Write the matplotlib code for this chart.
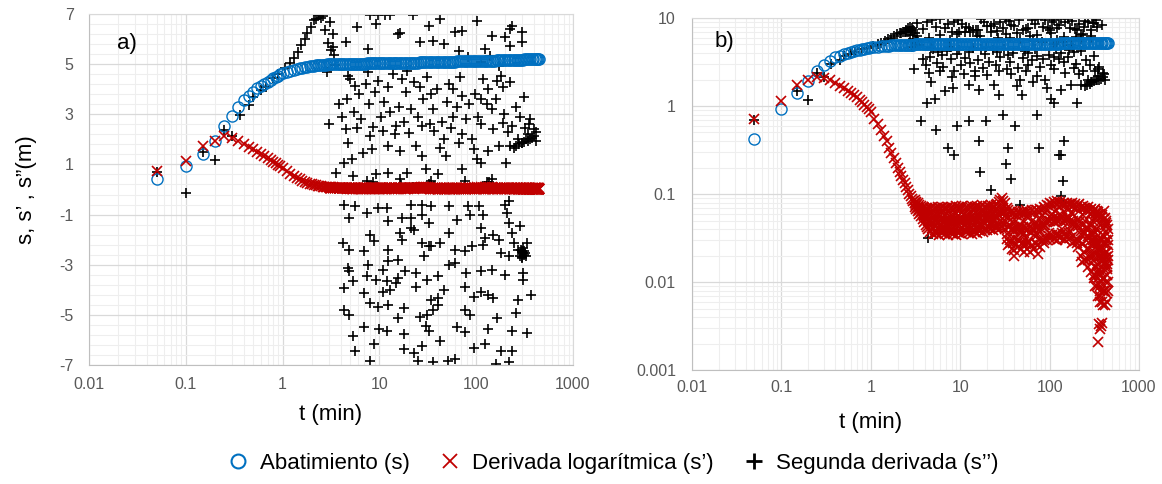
import numpy as np
import matplotlib
matplotlib.use("Agg")
import matplotlib.pyplot as plt
from matplotlib.lines import Line2D
from matplotlib.ticker import FixedLocator, NullFormatter, FuncFormatter, LogLocator

plt.rcParams['font.family'] = ['Liberation Sans', 'DejaVu Sans']
plt.rcParams['axes.unicode_minus'] = False

# ---- data ----
# sample times (min) shared by drawdown s and log-derivative s'
t = [0.05, 0.10, 0.15, 0.20, 0.25, 0.30, 0.35, 0.40, 0.45, 0.50,
     0.55, 0.60, 0.65, 0.70, 0.75, 0.80, 0.85, 0.90, 0.95, 1.00,
     1.1, 1.2, 1.3, 1.4, 1.5, 1.6, 1.7, 1.8, 1.9, 2.0,
     2.1, 2.2, 2.3, 2.4, 2.5, 2.6, 2.7, 2.8, 2.9, 3.0,
     3.1, 3.2, 3.35, 3.5, 3.65, 3.8, 3.95, 4.1, 4.25, 4.4,
     4.6, 4.8, 5.0, 5.2, 5.4, 5.6, 5.8, 6.0, 6.25, 6.5,
     6.75, 7.0, 7.25, 7.5, 7.8, 8.1, 8.4, 8.7, 9.0, 9.4,
     9.8, 10.2, 10.6, 11, 11.5, 12, 12.5, 13, 13.5, 14,
     14.5, 15, 15.6, 16.2, 16.8, 17.5, 18.2, 19, 19.8, 20.6,
     21.4, 22.2, 23, 24, 25, 26, 27, 28, 29, 30,
     31.5, 33, 34.5, 36, 37.5, 39, 40.5, 42, 44, 46,
     48, 50, 52, 54, 56, 58, 61, 64, 67, 70,
     73, 76, 79, 82, 86, 90, 94, 98, 102, 107,
     112, 117, 122, 127, 132, 138, 144, 150, 156, 163,
     170, 177, 184, 192, 200, 208, 216, 225, 234, 243,
     252, 262, 272, 282, 292, 302, 314, 326, 338, 350,
     362, 375, 388, 401, 414, 427, 440, 450]

# drawdown s (m)
s = [0.42, 0.92, 1.42, 1.93, 2.53, 2.93, 3.28, 3.57, 3.73, 3.90,
     4.04, 4.14, 4.22, 4.30, 4.37, 4.43, 4.49, 4.54, 4.59, 4.63,
     4.69, 4.74, 4.78, 4.81, 4.84, 4.86, 4.88, 4.90, 4.91, 4.93,
     4.94, 4.95, 4.96, 4.96, 4.97, 4.97, 4.98, 4.98, 4.99, 4.99,
     5.00, 5.00, 5.00, 5.00, 5.00, 5.01, 5.01, 5.01, 5.01, 5.01,
     5.01, 5.01, 5.01, 5.02, 5.02, 5.02, 5.02, 5.02, 5.02, 5.02,
     5.02, 5.02, 5.02, 5.03, 5.03, 5.03, 5.03, 5.03, 5.03, 5.03,
     5.03, 5.03, 5.03, 5.04, 5.04, 5.04, 5.04, 5.04, 5.04, 5.04,
     5.04, 5.05, 5.05, 5.05, 5.05, 5.05, 5.05, 5.05, 5.06, 5.06,
     5.06, 5.06, 5.06, 5.06, 5.06, 5.07, 5.07, 5.07, 5.07, 5.07,
     5.07, 5.08, 5.08, 5.08, 5.08, 5.08, 5.09, 5.09, 5.09, 5.09,
     5.09, 5.10, 5.10, 5.10, 5.10, 5.10, 5.10, 5.11, 5.11, 5.11,
     5.11, 5.11, 5.11, 5.12, 5.12, 5.12, 5.12, 5.12, 5.12, 5.13,
     5.13, 5.13, 5.13, 5.13, 5.14, 5.14, 5.14, 5.14, 5.14, 5.15,
     5.15, 5.15, 5.15, 5.16, 5.16, 5.16, 5.16, 5.17, 5.17, 5.17,
     5.17, 5.17, 5.18, 5.18, 5.18, 5.18, 5.19, 5.19, 5.19, 5.19,
     5.19, 5.20, 5.20, 5.20, 5.20, 5.21, 5.21, 5.21]

# log derivative s' (m)
ds = [0.72, 1.15, 1.74, 1.95, 2.12, 2.06, 1.95, 1.82, 1.70, 1.60,
      1.50, 1.42, 1.34, 1.26, 1.18, 1.11, 1.04, 0.98, 0.92, 0.85,
      0.72, 0.62, 0.54, 0.46, 0.40, 0.33, 0.29, 0.255, 0.225, 0.20,
      0.18, 0.16, 0.145, 0.132, 0.12, 0.11, 0.10, 0.094, 0.088, 0.083,
      0.079, 0.075, 0.071, 0.066, 0.063, 0.060, 0.056, 0.053, 0.058, 0.050,
      0.050, 0.062, 0.041, 0.055, 0.036, 0.048, 0.060, 0.043, 0.052, 0.038,
      0.058, 0.046, 0.064, 0.040, 0.053, 0.037, 0.049, 0.061, 0.044, 0.056,
      0.039, 0.051, 0.063, 0.045, 0.055, 0.038, 0.050, 0.060, 0.042, 0.054,
      0.047, 0.062, 0.040, 0.056, 0.044, 0.064, 0.048, 0.039, 0.058, 0.052,
      0.066, 0.045, 0.060, 0.050, 0.068, 0.042, 0.058, 0.063, 0.048, 0.070,
      0.062, 0.035, 0.055, 0.028, 0.048, 0.040, 0.032, 0.050, 0.030, 0.045,
      0.036, 0.026, 0.048, 0.032, 0.055, 0.028, 0.042, 0.050, 0.034, 0.046,
      0.034, 0.052, 0.038, 0.058, 0.030, 0.045, 0.064, 0.036, 0.055, 0.060,
      0.048, 0.066, 0.034, 0.058, 0.072, 0.040, 0.062, 0.030, 0.055, 0.068,
      0.038, 0.060, 0.045, 0.070, 0.028, 0.052, 0.064, 0.035, 0.058, 0.022,
      0.050, 0.066, 0.018, 0.045, 0.060, 0.028, 0.054, 0.012, 0.040, 0.062,
      0.008, 0.030, 0.055, 0.014, 0.045, 0.022, 0.035, 0.010]

# upper, centre and lower samples of the noisy s' band from t = 3.1 min on
ds_hi = [0.086, 0.082, 0.080, 0.076, 0.073, 0.071, 0.070, 0.068, 0.069, 0.066,
         0.069, 0.072, 0.066, 0.070, 0.067, 0.071, 0.065, 0.069, 0.072, 0.066,
         0.070, 0.067, 0.072, 0.065, 0.069, 0.071, 0.066, 0.070, 0.073, 0.067,
         0.071, 0.068, 0.073, 0.066, 0.070, 0.072, 0.067, 0.071, 0.074, 0.068,
         0.072, 0.069, 0.074, 0.067, 0.071, 0.075, 0.068, 0.072, 0.070, 0.074,
         0.071, 0.075, 0.069, 0.073, 0.076, 0.078, 0.082, 0.086, 0.089, 0.084,
         0.080, 0.070, 0.066, 0.063, 0.064, 0.060, 0.062, 0.058, 0.063, 0.060,
         0.061, 0.064, 0.060, 0.065, 0.062, 0.058, 0.063, 0.066, 0.062, 0.065,
         0.066, 0.063, 0.068, 0.066, 0.072, 0.070, 0.076, 0.074, 0.080, 0.078,
         0.081, 0.078, 0.083, 0.079, 0.082, 0.077, 0.080, 0.076, 0.079, 0.077,
         0.075, 0.079, 0.074, 0.078, 0.072, 0.075, 0.078, 0.071, 0.074, 0.069,
         0.070, 0.066, 0.071, 0.065, 0.068, 0.063, 0.066, 0.060, 0.064, 0.058,
         0.060, 0.055, 0.058, 0.052, 0.054, 0.047, 0.044, 0.040]
ds_mid = [0.079, 0.075, 0.072, 0.068, 0.064, 0.061, 0.058, 0.055, 0.054, 0.052,
          0.050, 0.054, 0.048, 0.052, 0.049, 0.053, 0.047, 0.051, 0.052, 0.050,
          0.050, 0.051, 0.049, 0.050, 0.049, 0.053, 0.048, 0.052, 0.050, 0.051,
          0.051, 0.052, 0.050, 0.051, 0.051, 0.054, 0.049, 0.053, 0.051, 0.052,
          0.052, 0.053, 0.051, 0.052, 0.052, 0.056, 0.050, 0.054, 0.052, 0.055,
          0.053, 0.057, 0.052, 0.056, 0.056, 0.059, 0.058, 0.062, 0.061, 0.062,
          0.056, 0.047, 0.042, 0.043, 0.039, 0.041, 0.038, 0.040, 0.040, 0.042,
          0.038, 0.042, 0.036, 0.041, 0.039, 0.040, 0.037, 0.041, 0.039, 0.042,
          0.041, 0.044, 0.041, 0.044, 0.045, 0.048, 0.048, 0.050, 0.050, 0.052,
          0.050, 0.052, 0.050, 0.052, 0.051, 0.053, 0.050, 0.052, 0.051, 0.053,
          0.049, 0.046, 0.049, 0.047, 0.046, 0.043, 0.048, 0.038, 0.044, 0.035,
          0.036, 0.040, 0.033, 0.036, 0.030, 0.034, 0.027, 0.031, 0.024, 0.028,
          0.020, 0.023, 0.019, 0.021, 0.017, 0.019, 0.016, 0.018]
ds_lo = [0.072, 0.068, 0.064, 0.060, 0.056, 0.052, 0.048, 0.045, 0.042, 0.040,
         0.037, 0.041, 0.035, 0.039, 0.036, 0.040, 0.034, 0.038, 0.036, 0.040,
         0.035, 0.039, 0.034, 0.038, 0.036, 0.040, 0.035, 0.039, 0.034, 0.038,
         0.036, 0.040, 0.035, 0.039, 0.037, 0.041, 0.036, 0.040, 0.035, 0.039,
         0.037, 0.041, 0.036, 0.040, 0.038, 0.042, 0.037, 0.041, 0.039, 0.043,
         0.040, 0.044, 0.039, 0.043, 0.041, 0.045, 0.040, 0.044, 0.042, 0.046,
         0.040, 0.031, 0.026, 0.030, 0.024, 0.028, 0.023, 0.027, 0.025, 0.029,
         0.024, 0.028, 0.022, 0.027, 0.024, 0.028, 0.022, 0.026, 0.024, 0.028,
         0.026, 0.030, 0.025, 0.029, 0.028, 0.032, 0.030, 0.033, 0.031, 0.034,
         0.031, 0.035, 0.030, 0.034, 0.032, 0.036, 0.031, 0.035, 0.033, 0.036,
         0.032, 0.028, 0.033, 0.029, 0.030, 0.025, 0.029, 0.020, 0.027, 0.018,
         0.018, 0.024, 0.015, 0.020, 0.013, 0.018, 0.011, 0.015, 0.009, 0.013,
         0.007, 0.010, 0.006, 0.008, 0.0055, 0.0075, 0.006, 0.008]

# extra s' samples in the noisy tail
t_ds_tail = [40, 75, 232, 255, 265, 275, 285, 295, 305, 310,
             318, 322, 330, 335, 342, 346, 350, 352, 355, 358,
             362, 366, 370, 378, 382, 385, 392, 396, 405, 410,
             418, 422, 432, 436, 445, 448,
             300, 308, 316, 324, 332, 340, 348, 356, 364, 372,
             380, 388, 396, 404, 412, 420, 428, 436, 444, 300,
             312, 328, 344, 360, 376, 392, 408, 424, 440, 450]
ds_tail = [0.020, 0.021, 0.017, 0.030, 0.042, 0.024, 0.060, 0.035, 0.050, 0.020,
           0.068, 0.009, 0.040, 0.016, 0.058, 0.007, 0.0021, 0.026, 0.0033, 0.012,
           0.0029, 0.048, 0.006, 0.0032, 0.018, 0.0034, 0.034, 0.0055, 0.064, 0.011,
           0.028, 0.008, 0.050, 0.015, 0.030, 0.020,
           0.045, 0.030, 0.022, 0.036, 0.015, 0.028, 0.011, 0.024, 0.009, 0.032,
           0.013, 0.020, 0.008, 0.040, 0.016, 0.026, 0.010, 0.022, 0.014, 0.020,
           0.012, 0.025, 0.019, 0.014, 0.024, 0.011, 0.018, 0.030, 0.012, 0.026]

# second derivative s'' (m)
t_pp = [0.05, 0.10, 0.15, 0.20, 0.25, 0.30, 0.36, 0.45, 0.50, 0.60,
        0.67, 0.80, 0.90, 1.05, 1.20, 1.30, 1.45, 1.55, 1.70, 1.80,
        1.95, 2.10, 2.30, 2.45, 2.60, 2.75, 2.90, 2.60, 2.75, 2.95,
        3.20, 3.40, 2.20, 2.40, 3.00, 3.10, 3.30, 2.50, 2.85, 3.50,
        8, 9.6, 11.4, 13, 22, 9.2, 5.9, 42.7, 32.6, 103,
        15.5, 16.5, 60, 72, 146, 237, 225, 294, 294, 198,
        225, 4.5, 3.3, 7.7, 26.3, 35.8, 46.5, 66, 82, 122,
        140, 111, 174, 181, 225, 166, 189, 2.9, 4.7, 5.6,
        7.7, 9.6, 12.4, 17, 19.3, 26, 34, 53, 58, 72,
        98, 134, 146, 111, 3.05, 4.5, 5.9, 8, 10.9, 14.8,
        20, 27.5, 37, 46.5, 55, 72, 90, 111, 150, 188,
        237, 320, 270, 225, 247, 294, 330, 345, 174, 205,
        4.7, 5.2, 6.7, 8.4, 12.4, 16.2, 24, 27.5, 42.7, 48.6,
        66, 94, 103, 134, 3.6, 4.3, 5.4, 7.4, 9.2, 12.4,
        16.2, 19.3, 30, 40.6, 72, 111, 146, 76, 34, 260,
        280, 300, 310, 340, 360, 380, 400, 410, 415, 350,
        4.3, 5.6, 7.4, 9.6, 11.9, 21, 27.5, 34, 53, 82,
        107, 198, 217, 4.9, 12.4, 17, 21, 27.5, 32.6, 63,
        86, 117, 111, 207, 217, 283, 4.2, 4.9, 7.0, 8,
        8.8, 12.4, 16.2, 17, 21, 23, 27.5, 32.6, 42.7, 53,
        60, 76, 90, 117, 122, 150, 174, 181, 237, 247,
        270, 294, 283, 305, 294, 333, 305, 7.7, 12.4, 15.5,
        28.6, 34, 53, 60, 217, 4.7, 4.8, 7.4, 10.9, 15.5,
        18.4, 24, 31, 40.6, 79, 111, 146, 198, 305, 305,
        4.3, 5.4, 7.0, 9.2, 10.9, 13, 14.8, 11.9, 24, 34,
        40.6, 46.5, 76, 94, 111, 134, 150, 270, 368, 4.3,
        4.9, 8, 9.6, 12.4, 15.5, 17.8, 26.3, 31, 35.8, 40.6,
        76, 86, 258, 5.4, 5.6, 7.0, 8.8, 10, 11.9, 17.8,
        17.8, 23, 27.5, 30, 32.6, 8, 25, 35.8, 42.7, 51,
        60, 63, 76, 94, 122, 134, 166, 160, 181, 217,
        237, 237, 333, 300, 310, 300, 290, 315, 320, 325,
        3.3, 4.8, 5.3, 7.4, 9.4, 12.5, 15, 18.3, 20, 25.5,
        32.2, 37, 50, 63, 84, 106, 135, 171, 180, 240,
        303, 6.7, 28, 45, 55, 75, 95, 150, 200, 270,
        330, 120, 3.8, 10.5, 22, 16, 4.2, 6, 8.5, 11.5,
        14, 17, 24, 30, 35, 40, 58, 68, 90, 100,
        112, 128, 160, 190, 215, 250, 290, 315, 340, 385,
        8.5, 16.6, 22, 32.3, 128, 135, 141, 135, 4.4, 47,
        141, 37,
        3.8, 4.1, 4.6, 5.0, 5.5, 6.2, 6.5, 7.2, 7.9, 8.6,
        9.1, 10.3, 11.2, 12.8, 13.8, 14.6, 16, 18, 18.8, 21,
        23, 25, 28, 31, 33, 36, 39, 44, 50, 57,
        63, 68, 78, 85, 104, 118, 128, 160, 195, 215,
        255, 285, 310, 360, 395]
pp = [0.70, -0.15, 1.48, 1.18, 2.37, 2.13, 2.97, 3.35, 3.70, 3.95,
      4.10, 4.45, 4.62, 4.85, 5.05, 5.23, 5.50, 5.76, 6.00, 6.23,
      6.50, 6.76, 6.96, 7.30, 7.60, 7.90, 7.70, 6.90, 6.36, 5.83,
      5.56, 5.36, 6.80, 6.95, 7.40, 6.70, 6.20, 6.85, 7.20, 4.95,
      6.95, 6.97, 6.97, 6.97, 6.97, 6.6, 6.47, 6.8, 6.53, 6.73,
      6.2, 6.25, 6.27, 6.33, 6.13, 6.53, 6.4, 6.27, 5.87, 6.07,
      5.73, 5.87, 5.67, 5.6, 5.87, 5.93, 5.8, 5.53, 5.27, 5.6,
      5.33, 5.07, 4.93, 4.53, 4.27, 4.33, 4.07, 4.67, 4.53, 4.13,
      4.67, 4.33, 4.07, 4.4, 4.73, 4.07, 3.8, 4.2, 4.0, 3.73,
      3.8, 4.0, 3.2, 3.6, 2.6, 2.4, 2.47, 2.13, 2.33, 2.53,
      2.27, 2.53, 2.33, 2.0, 2.47, 2.2, 2.0, 2.6, 2.4, 2.67,
      2.53, 2.47, 2.0, 1.73, 1.67, 1.87, 2.0, 2.2, 1.73, 1.07,
      1.87, 1.2, 1.47, 1.6, 1.73, 1.53, 1.73, 1.33, 1.67, 1.33,
      1.87, 1.6, 1.2, 1.53, 0.67, 1.07, 0.53, 0.33, 0.6, 0.67,
      0.4, 0.67, 0.8, 0.6, 0.8, 1.07, 0.4, 0.33, 0.33, 1.75,
      1.8, 1.85, 1.9, 1.95, 2.0, 2.05, 2.15, 2.3, 1.95, 2.6,
      -0.6, -0.67, -0.93, -0.73, -0.73, -0.6, -0.6, -0.67, -0.67, -0.67,
      -0.67, -0.6, -0.47, -1.13, -1.27, -1.13, -1.13, -1.0, -1.33, -1.2,
      -1.0, -1.0, -1.53, -0.93, -1.33, -1.47, -2.13, -2.4, -2.47, -1.8,
      -2.07, -2.4, -1.73, -2.0, -1.53, -1.6, -2.13, -2.27, -2.13, -1.73,
      -2.4, -2.47, -2.27, -2.2, -1.93, -1.8, -2.0, -2.53, -1.73, -2.13,
      -2.4, -2.47, -2.67, -2.53, -2.73, -2.13, -2.33, -3.0, -2.87, -2.8,
      -2.67, -2.27, -3.0, -2.93, -2.67, -3.13, -3.27, -3.47, -3.2, -3.53,
      -3.27, -3.33, -3.6, -3.47, -3.33, -3.27, -3.2, -3.4, -3.33, -3.6,
      -3.93, -3.67, -4.13, -3.6, -4.07, -4.0, -3.73, -3.67, -3.87, -4.4,
      -4.33, -4.0, -3.87, -4.27, -4.07, -4.2, -4.33, -4.4, -4.2, -4.8,
      -5.0, -4.53, -4.67, -4.6, -5.13, -4.73, -5.07, -5.0, -4.8, -4.6,
      -4.8, -5.0, -4.93, -5.85, -6.45, -5.5, -6.17, -5.58, -5.65, -5.78,
      -6.38, -6.51, -6.25, -5.45, -5.65, -6.84, -6.84, -6.9, -6.05, -6.84,
      -6.78, -5.5, -5.7, -6.31, -6.18, -5.58, -5.12, -6.97, -6.45, -6.9,
      -6.45, -5.65, -5.72, -2.5, -2.6, -2.7, -2.4, -2.45, -2.55, -2.65,
      8.8, 9.4, 8.0, 8.6, 9.5, 7.6, 7.3, 9.0, 8.1, 7.2,
      9.7, 8.3, 7.4, 9.6, 7.9, 9.1, 9.7, 7.6, 9.3, 8.0,
      8.7, 7.6, 9.0, 9.5, 7.5, 9.8, 7.8, 8.9, 7.4, 9.1,
      9.4, 7.7, 7.5, 8.5, 8.2, 7.3, 8.9, 9.8, 9.0, 7.9,
      7.4, 9.7, 8.6, 7.8, 9.3, 8.1, 7.6, 8.6, 9.6, 7.3,
      9.5, 8.3, 9.7, 7.5, 8.6, 9.2, 7.4, 8.8, 7.9, 8.4,
      0.28, 0.18, 0.11, 0.22, 0.28, 0.28, 0.14, 0.095, 0.032, 0.075,
      0.08, 0.15,
      3.4, 2.9, 3.6, 4.4, 3.1, 3.8, 2.8, 4.2, 3.4, 2.5,
      3.9, 2.9, 3.5, 3.1, 4.6, 2.2, 3.3, 2.7, 3.9, 3.2,
      4.3, 2.9, 3.6, 4.5, 2.6, 3.2, 4.0, 2.7, 3.5, 2.9,
      3.3, 4.5, 2.8, 3.4, 2.9, 4.4, 3.4, 3.6, 3.0, 2.3,
      3.3, 2.9, 3.7, 2.8, 2.4]

labels = ['Abatimiento (s)', 'Derivada logarítmica (s’)', 'Segunda derivada (s’’)']

blue = '#0070C0'
red = '#C00000'
tick_col = '#595959'

t_band = t[40:]
t_all_ds = np.array(t + t_band + t_band + t_band + t_ds_tail)
ds_all = np.array(ds + ds_hi + ds_mid + ds_lo + ds_tail)
t_pp = np.array(t_pp)
pp = np.array(pp)

fig = plt.figure(figsize=(11.62, 4.84), dpi=100)
ax1 = fig.add_axes([0.0766, 0.2459, 0.4165, 0.7252])
ax2 = fig.add_axes([0.5955, 0.2355, 0.3847, 0.7273])


def draw(ax, keep):
    ax.plot(t_pp[keep], pp[keep], ls='none', marker='+', ms=7, mew=1.2, color='black', zorder=2)
    ax.plot(t, s, ls='none', marker='o', ms=8, mfc='none', mec=blue, mew=1.0, zorder=3)
    ax.plot(t_all_ds, ds_all, ls='none', marker='x', ms=6.5, mew=1.2, color=red, zorder=4)
    ax.set_xscale('log')
    ax.set_xlim(0.01, 1000)
    ax.xaxis.set_major_locator(LogLocator(base=10))
    ax.xaxis.set_minor_locator(LogLocator(base=10, subs=np.arange(2, 10)))
    ax.xaxis.set_major_formatter(FuncFormatter(lambda v, p: '{:g}'.format(v)))
    ax.xaxis.set_minor_formatter(NullFormatter())
    ax.grid(which='major', color='#D9D9D9', lw=0.9)
    ax.grid(which='minor', color='#EEEEEE', lw=0.8)
    ax.set_axisbelow(True)
    for side in ['top', 'right']:
        ax.spines[side].set_color('#D9D9D9')
    for side in ['left', 'bottom']:
        ax.spines[side].set_color('#BFBFBF')
    ax.tick_params(which='both', length=0, labelsize=11.5, labelcolor=tick_col)


# a) linear axis
draw(ax1, np.ones(len(pp), dtype=bool))
ax1.set_ylim(-7, 7)
ax1.yaxis.set_major_locator(FixedLocator(np.arange(-7, 8, 2)))
ax1.yaxis.set_minor_locator(FixedLocator(np.arange(-7, 7.01, 0.4)))
ax1.tick_params(axis='y', pad=11)
ax1.tick_params(axis='x', pad=8.5)
ax1.set_xlabel('t (min)', fontsize=16)
ax1.xaxis.set_label_coords(0.5, -0.112)
ax1.set_ylabel('s, s’ , s”(m)', fontsize=16)
ax1.yaxis.set_label_coords(-0.107, 0.5)
ax1.text(0.058, 0.915, 'a)', transform=ax1.transAxes, fontsize=16, ha='left', va='center')

# b) log axis (only positive values can be shown)
draw(ax2, pp > 0)
ax2.set_yscale('log')
ax2.set_ylim(0.001, 10)
ax2.yaxis.set_major_locator(LogLocator(base=10))
ax2.yaxis.set_minor_locator(LogLocator(base=10, subs=np.arange(2, 10)))
ax2.yaxis.set_major_formatter(FuncFormatter(lambda v, p: '{:g}'.format(v)))
ax2.yaxis.set_minor_formatter(NullFormatter())
ax2.tick_params(axis='y', pad=11.5)
ax2.tick_params(axis='x', pad=7.5)
ax2.set_xlabel('t (min)', fontsize=16)
ax2.xaxis.set_label_coords(0.40, -0.12)
ax2.text(0.051, 0.932, 'b)', transform=ax2.transAxes, fontsize=16, ha='left', va='center')

handles = [Line2D([], [], ls='none', marker='o', ms=10, mfc='none', mec=blue, mew=1.5),
           Line2D([], [], ls='none', marker='x', ms=10, mec=red, mew=1.3),
           Line2D([], [], ls='none', marker='+', ms=11, mec='black', mew=2.0)]
fig.legend(handles, labels, loc='center', bbox_to_anchor=(0.5275, 0.043), ncol=3,
           frameon=False, fontsize=16, handlelength=1.0, handletextpad=0.5,
           columnspacing=1.3)

fig.savefig('out.png', dpi=100, facecolor='white')
